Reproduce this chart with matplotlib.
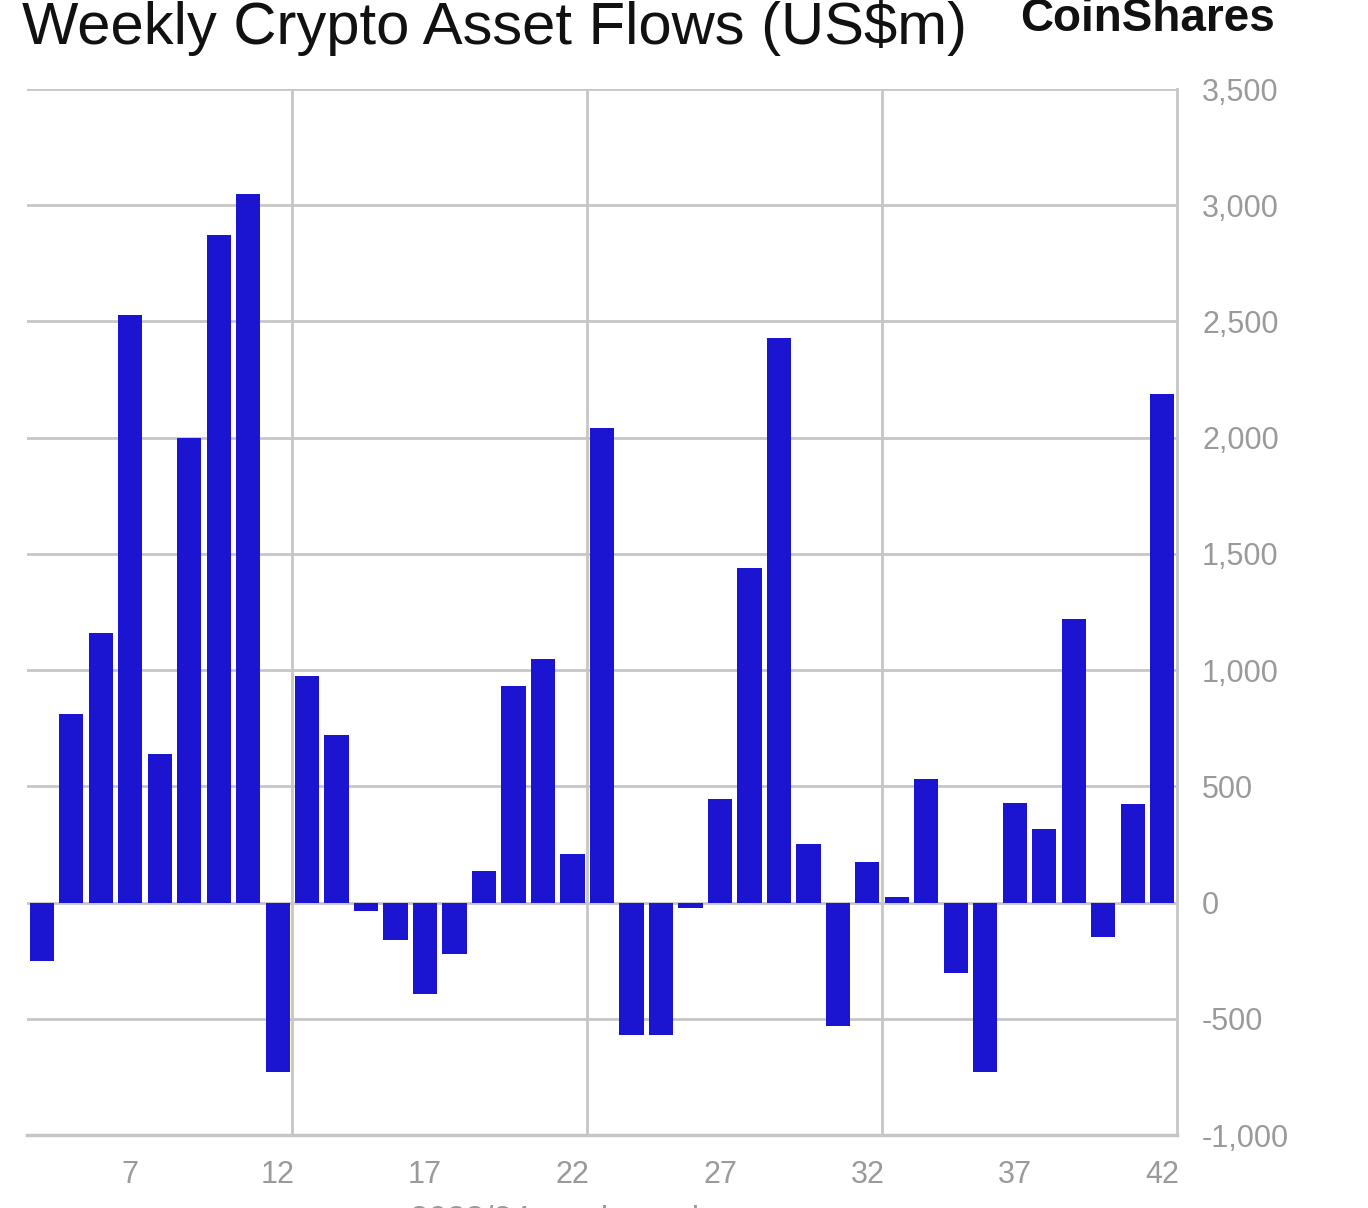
import matplotlib

matplotlib.use("Agg")
import matplotlib.pyplot as plt
from matplotlib.ticker import FuncFormatter

# week numbers and weekly net flows (US$m)
weeks = list(range(4, 43))
flows = [
    -250, 810, 1160, 2530, 640, 2000, 2870, 3050, -730, 975,
    720, -35, -160, -395, -220, 135, 930, 1050, 210, 2040,
    -570, -570, -25, 445, 1440, 2430, 250, -530, 175, 25,
    530, -305, -730, 430, 315, 1220, -150, 425, 2190,
]
x_ticks = [7, 12, 17, 22, 27, 32, 37, 42]
y_ticks = [-1000, -500, 0, 500, 1000, 1500, 2000, 2500, 3000, 3500]
v_grid = [12.5, 22.5, 32.5]

BAR_COLOR = "#1b14d0"
GRID_COLOR = "#c6c6c6"
LABEL_COLOR = "#9a9a9a"

plt.rcParams["font.family"] = ["Liberation Sans", "DejaVu Sans"]

fig = plt.figure(figsize=(13.68, 12.08), dpi=100)
ax = fig.add_axes([0.0197, 0.0604, 0.8407, 0.8659])

ax.bar(weeks, flows, width=0.82, color=BAR_COLOR, zorder=3)

ax.set_xlim(3.5, 42.5)
ax.set_ylim(-1000, 3500)
ax.set_yticks(y_ticks)
ax.set_xticks(x_ticks)
ax.yaxis.set_major_formatter(FuncFormatter(lambda v, _: f"{int(v):,}"))
ax.yaxis.tick_right()
ax.tick_params(axis="both", length=0, labelsize=22, labelcolor=LABEL_COLOR)
ax.tick_params(axis="y", pad=18)
ax.tick_params(axis="x", pad=18)

ax.grid(axis="y", color=GRID_COLOR, linewidth=2, zorder=1)
for gx in v_grid:
    ax.axvline(gx, color=GRID_COLOR, linewidth=2, zorder=1)

for side in ("top", "left"):
    ax.spines[side].set_visible(False)
ax.spines["right"].set_color(GRID_COLOR)
ax.spines["right"].set_linewidth(2)
ax.spines["bottom"].set_color(GRID_COLOR)
ax.spines["bottom"].set_linewidth(2.5)

fig.text(0.016, 0.977, "Weekly Crypto Asset Flows (US$m)", fontsize=43,
         ha="left", va="center", color="#111111")
fig.text(0.932, 0.984, "CoinShares", fontsize=33, fontweight="bold",
         ha="right", va="center", color="#111111")
fig.text(0.42, -0.010, "2023/24 week number", fontsize=24,
         ha="center", va="center", color=LABEL_COLOR)

fig.savefig("out.png", dpi=100)
